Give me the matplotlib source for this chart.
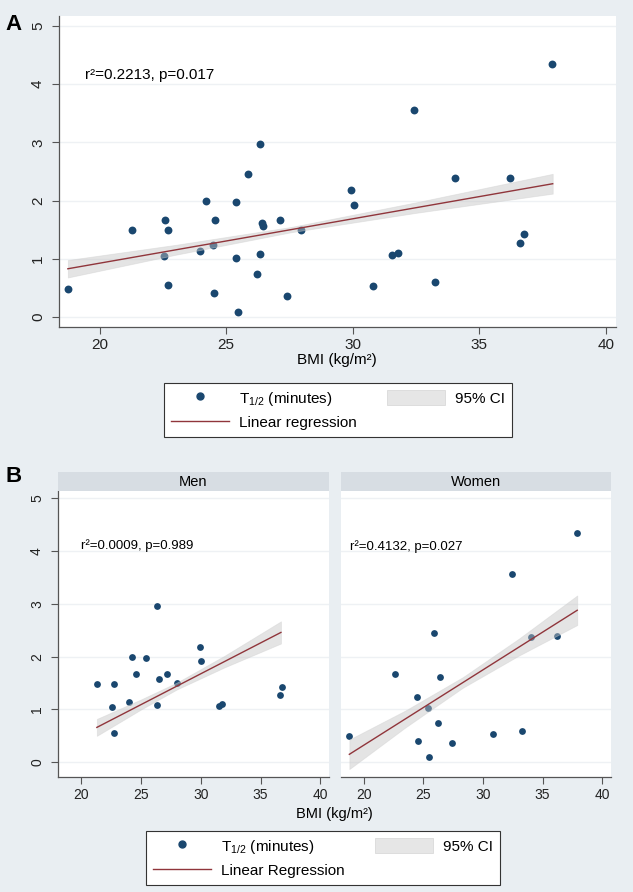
"""
BMI 与 T1/2 散点回归图 (Stata 风格)
"""

import matplotlib
matplotlib.use('Agg')
import matplotlib.pyplot as plt
from matplotlib.lines import Line2D
from matplotlib.patches import Patch

plt.rcParams['font.family'] = ['Liberation Sans', 'DejaVu Sans']
plt.rcParams['mathtext.default'] = 'regular'

# 数据
men_bmi = [21.3, 22.55, 22.7, 22.7, 23.95, 24.2, 24.57, 25.4, 26.33, 26.33,
           26.47, 27.13, 27.97, 29.93, 30.04, 31.55, 31.78, 36.6, 36.75]
men_t12 = [1.49, 1.05, 1.49, 0.55, 1.14, 2.00, 1.67, 1.98, 2.97, 1.08,
           1.57, 1.67, 1.50, 2.18, 1.92, 1.06, 1.10, 1.28, 1.42]
women_bmi = [18.77, 22.6, 24.48, 24.52, 25.4, 25.46, 25.88, 26.22, 26.4, 27.42,
             30.8, 32.44, 33.26, 34.05, 36.2, 37.89]
women_t12 = [0.49, 1.67, 1.23, 0.41, 1.02, 0.09, 2.45, 0.74, 1.62, 0.37,
             0.54, 3.56, 0.60, 2.38, 2.39, 4.35]

all_bmi = men_bmi + women_bmi
all_t12 = men_t12 + women_t12

# 回归线与置信带
fit_x_all = [18.75, 37.9]
fit_y_all = [0.83, 2.29]
ci_x_all = [18.75, 23.0, 27.6, 32.5, 37.9]
ci_lo_all = [0.68, 1.07, 1.46, 1.79, 2.12]
ci_hi_all = [0.98, 1.24, 1.55, 1.97, 2.46]

fit_x_men = [21.3, 36.7]
fit_y_men = [0.66, 2.46]
ci_x_men = [21.3, 25.0, 28.0, 32.0, 36.7]
ci_lo_men = [0.50, 1.00, 1.38, 1.80, 2.25]
ci_hi_men = [0.82, 1.19, 1.51, 2.02, 2.67]

fit_x_women = [18.8, 37.9]
fit_y_women = [0.15, 2.88]
ci_x_women = [18.8, 23.5, 28.3, 33.0, 37.9]
ci_lo_women = [-0.13, 0.66, 1.41, 2.02, 2.60]
ci_hi_women = [0.43, 0.98, 1.61, 2.34, 3.16]

stats_all = 'r\u00b2=0.2213, p=0.017'
stats_men = 'r\u00b2=0.0009, p=0.989'
stats_women = 'r\u00b2=0.4132, p=0.027'

x_ticks = [20, 25, 30, 35, 40]
y_ticks = [0, 1, 2, 3, 4, 5]

BG = '#e9eef2'
STRIP = '#d7dde3'
NAVY = '#1a476f'
MAROON = '#90353b'
AXC = '#555555'

W, H = 633, 892
fig = plt.figure(figsize=(W / 100, H / 100), dpi=100, facecolor=BG)


def px_axes(l, t, r, b):
    return fig.add_axes([l / W, 1 - b / H, (r - l) / W, (b - t) / H])


def style_axes(ax, xlim, ylim, fs, show_y=True):
    ax.set_xlim(*xlim)
    ax.set_ylim(*ylim)
    ax.set_xticks(x_ticks)
    ax.set_yticks(y_ticks)
    for s in ['top', 'right']:
        ax.spines[s].set_visible(False)
    for s in ['left', 'bottom']:
        ax.spines[s].set_color(AXC)
        ax.spines[s].set_linewidth(0.9)
    ax.tick_params(direction='out', length=5, width=0.8, color=AXC,
                   labelsize=fs, labelcolor='#222222', pad=3)
    ax.tick_params(axis='y', pad=5)
    ax.yaxis.grid(True, color='#eef1f4', lw=1.0)
    ax.set_axisbelow(True)
    if show_y:
        for lab in ax.get_yticklabels():
            lab.set_rotation(90)
            lab.set_va('center')
    else:
        ax.spines['left'].set_visible(False)
        ax.tick_params(axis='y', left=False, labelleft=False)


def draw_panel(ax, bx, by, fx, fy, cx, clo, chi, ms):
    ax.scatter(bx, by, s=ms, color=NAVY, linewidths=0, zorder=2)
    ax.fill_between(cx, clo, chi, color='#c4c4c4', alpha=0.45,
                    linewidth=0.6, edgecolor='#d0d0d0', zorder=3)
    ax.plot(fx, fy, color=MAROON, lw=1.0, zorder=4)


def add_legend(cx, cy, reg_label):
    handles = [
        Line2D([], [], marker='o', ls='none', color=NAVY, markersize=5),
        Line2D([], [], color=MAROON, lw=1.0),
        Patch(facecolor='#e6e6e6', edgecolor='#dadada', lw=0.6),
        Patch(alpha=0),
    ]
    labels = ['T$_{1/2}$ (minutes)', reg_label, '95% CI', '']
    leg = fig.legend(handles, labels, ncol=2, loc='center',
                     bbox_to_anchor=(cx / W, 1 - cy / H), fontsize=11,
                     frameon=True, fancybox=False, edgecolor='#333333',
                     facecolor='white', framealpha=1, handlelength=3.8,
                     handleheight=1.2, handletextpad=0.65, columnspacing=2.0,
                     labelspacing=0.45, borderpad=0.45)
    leg.get_frame().set_linewidth(0.8)


# 面板 A
axA = px_axes(59, 16, 616, 327)
axA.set_facecolor('white')
draw_panel(axA, all_bmi, all_t12, fit_x_all, fit_y_all,
           ci_x_all, ci_lo_all, ci_hi_all, 32)
style_axes(axA, (18.4, 40.4), (-0.17, 5.17), 11)
axA.text(19.41, 4.15, stats_all, fontsize=11, va='center', ha='left')
fig.text(337 / W, 1 - 360 / H, 'BMI (kg/m\u00b2)', ha='center', va='center',
         fontsize=11)
fig.text(14 / W, 1 - 24 / H, 'A', fontsize=16, fontweight='bold',
         ha='center', va='center')
add_legend(338, 410, 'Linear regression')

# 面板 B
axM = px_axes(58, 491, 329, 777)
axW = px_axes(341, 491, 611, 777)
for ax in (axM, axW):
    ax.set_facecolor('white')

draw_panel(axM, men_bmi, men_t12, fit_x_men, fit_y_men,
           ci_x_men, ci_lo_men, ci_hi_men, 24)
draw_panel(axW, women_bmi, women_t12, fit_x_women, fit_y_women,
           ci_x_women, ci_lo_women, ci_hi_women, 24)
style_axes(axM, (18.05, 40.72), (-0.28, 5.14), 10)
style_axes(axW, (18.1, 40.73), (-0.28, 5.14), 10, show_y=False)
axM.text(19.94, 4.10, stats_men, fontsize=9.5, va='center', ha='left')
axW.text(18.83, 4.08, stats_women, fontsize=9.5, va='center', ha='left')

for (l, r), name in zip([(58, 329), (341, 611)], ['Men', 'Women']):
    sax = px_axes(l, 472, r, 491)
    sax.set_facecolor(STRIP)
    sax.set_xticks([])
    sax.set_yticks([])
    for s in sax.spines.values():
        s.set_visible(False)
    sax.text(0.5, 0.5, name, transform=sax.transAxes, ha='center',
             va='center', fontsize=10.5)

fig.text(334 / W, 1 - 814 / H, 'BMI (kg/m\u00b2)', ha='center', va='center',
         fontsize=10.5)
fig.text(14 / W, 1 - 476 / H, 'B', fontsize=16, fontweight='bold',
         ha='center', va='center')
add_legend(323, 858, 'Linear Regression')

plt.savefig('out.png', dpi=100, facecolor=fig.get_facecolor())
plt.close()
